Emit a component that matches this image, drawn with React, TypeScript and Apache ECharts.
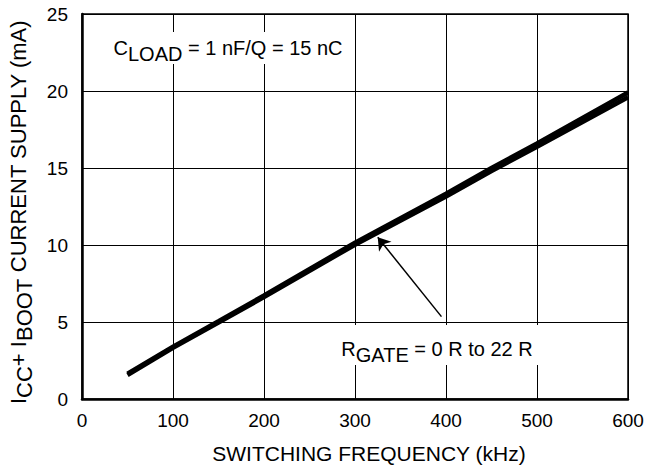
import React, { useEffect, useRef } from "react";
import * as echarts from "echarts";

// ---- data ----
const freqKHz = [50, 100, 150, 200, 300, 400, 450, 500, 600];
const supplyRgate0 = [1.64, 3.4, 5.05, 6.72, 10.15, 13.33, 15.0, 16.6, 19.9];
const supplyRgate22 = [1.56, 3.32, 4.96, 6.62, 10.02, 13.15, 14.8, 16.38, 19.6];
const xRange = [0, 600];
const xStep = 100;
const yRange = [0, 25];
const yStep = 5;
const arrowTail = [395, 5.35];
const arrowHead = [325, 10.5];

const FONT = "'Liberation Sans', Arial, Helvetica, sans-serif";

export default function App() {
  const ref = useRef<HTMLDivElement>(null);
  useEffect(() => {
    if (!ref.current) return;
    const chart = echarts.init(ref.current, undefined, { renderer: "svg" });
    const toPairs = (ys: number[]) => freqKHz.map((x, i) => [x, ys[i]]);
    const mk = (size: number) => ({
      a: { fontSize: size, fontFamily: FONT, color: "#000", lineHeight: size, verticalAlign: "top" },
      s: { fontSize: size, fontFamily: FONT, color: "#000", lineHeight: size + 6, verticalAlign: "bottom" },
    });
    chart.setOption({
      animation: false,
      backgroundColor: "#fff",
      grid: { left: 82, right: 23, top: 14, bottom: 71, show: true, borderColor: "#000", borderWidth: 1.5 },
      xAxis: {
        type: "value",
        min: xRange[0],
        max: xRange[1],
        interval: xStep,
        axisLine: { show: true, lineStyle: { color: "#000", width: 2.5 } },
        axisTick: { show: false },
        axisLabel: { color: "#000", fontSize: 19, fontFamily: FONT, margin: 12 },
        splitLine: { show: true, lineStyle: { color: "#000", width: 1 } },
      },
      yAxis: {
        type: "value",
        min: yRange[0],
        max: yRange[1],
        interval: yStep,
        axisLine: { show: true, lineStyle: { color: "#000", width: 2.5 } },
        axisTick: { show: false },
        axisLabel: { color: "#000", fontSize: 19, fontFamily: FONT, margin: 14 },
        splitLine: { show: true, lineStyle: { color: "#000", width: 1 } },
      },
      series: [
        {
          type: "line",
          data: toPairs(supplyRgate0),
          showSymbol: false,
          lineStyle: { color: "#000", width: 4.5 },
          z: 3,
        },
        {
          type: "line",
          data: toPairs(supplyRgate22),
          showSymbol: false,
          lineStyle: { color: "#000", width: 4.5 },
          z: 3,
          markLine: {
            silent: true,
            symbol: ["none", "arrow"],
            symbolSize: 12,
            label: { show: false },
            lineStyle: { color: "#000", width: 1.5, type: "solid" },
            data: [[{ coord: arrowTail }, { coord: arrowHead }]],
          },
        },
      ],
      graphic: [
        {
          type: "text",
          z: 100,
          x: 228,
          y: 32,
          style: {
            text: "{a|C}{s|LOAD}{a| = 1 nF/Q = 15 nC}",
            align: "center",
            verticalAlign: "top",
            backgroundColor: "#fff",
            padding: [6, 8, 0, 8],
            rich: mk(20),
          },
        },
        {
          type: "text",
          z: 100,
          x: 437,
          y: 325,
          style: {
            text: "{a|R}{s|GATE}{a| = 0 R to 22 R}",
            align: "center",
            verticalAlign: "top",
            backgroundColor: "#fff",
            padding: [14, 8, 0, 8],
            rich: mk(20),
          },
        },
        {
          type: "text",
          z: 100,
          x: 21,
          y: 212,
          rotation: Math.PI / 2,
          style: {
            text: "{a|I}{s|CC}{a|+ I}{s|BOOT}{a| CURRENT SUPPLY (mA)}",
            align: "center",
            verticalAlign: "middle",
            rich: mk(22),
          },
        },
        {
          type: "text",
          z: 100,
          x: 369,
          y: 453,
          style: {
            text: "SWITCHING FREQUENCY (kHz)",
            align: "center",
            verticalAlign: "middle",
            fontSize: 21,
            fontFamily: FONT,
            fill: "#000",
          },
        },
      ],
    });
    return () => chart.dispose();
  }, []);
  return (
    <div
      ref={ref}
      style={{ position: "fixed", left: 0, top: 0, width: 651, height: 470, background: "#fff" }}
    />
  );
}
